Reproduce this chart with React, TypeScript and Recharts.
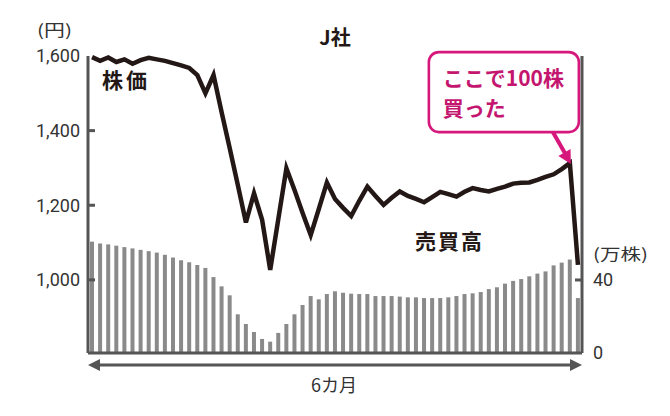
import React from 'react';
import { ComposedChart, Bar, Line, XAxis, YAxis, ReferenceDot } from 'recharts';

// 6 months of weekly-ish points (bar index)
const days = Array.from({ length: 61 }, (_, i) => i + 1);

// 株価 (円)
const price = [
  1597, 1587, 1596, 1584, 1591, 1579, 1589, 1595, 1591, 1587,
  1581, 1575, 1568, 1549, 1500, 1549, 1449, 1353, 1254, 1154,
  1232, 1161, 1027, 1163, 1299, 1241, 1179, 1120, 1190, 1261,
  1217, 1193, 1171, 1212, 1250, 1225, 1201, 1220, 1237, 1225,
  1217, 1208, 1222, 1236, 1230, 1223, 1236, 1246, 1241, 1237,
  1244, 1250, 1258, 1260, 1261, 1268, 1276, 1283, 1297, 1313,
  1040,
];

// 売買高 (万株)
const volume = [
  61, 60, 59.5, 58.8, 58, 57.3, 56.5, 55.8, 55, 53.8,
  52.3, 50.8, 49.7, 48.2, 46.6, 41.6, 36.5, 31.6, 21.2, 15.9,
  11.5, 7.7, 6.2, 11, 15.9, 21.2, 26.3, 31.2, 29.4, 32.3,
  33.8, 33, 32.5, 32.3, 32.3, 31.2, 31.2, 31.2, 30.9, 30.5,
  30.5, 30.1, 30.1, 30.1, 30.5, 31.2, 32.3, 32.7, 33.4, 35,
  36, 38, 39.5, 40.5, 42, 43.5, 44.7, 48, 49.5, 51.2,
  30.1,
];

const priceTicks = [1000, 1200, 1400, 1600];
const volumeTicks = [0, 40];
const buyIndex = 59; // ここで100株買った

const data = days.map((d, i) => ({ day: d, price: price[i], volume: volume[i] }));

const AXIS = '#555';
const PINK = '#d6177c';
const PINK_TEXT = '#c4166f';
const JP = '"Noto Sans CJK JP", "Noto Sans", sans-serif';
const NUM = 'Roboto, "Noto Sans", sans-serif';

const PriceTick = (props: any) => {
  const { x, y, payload } = props;
  const v = payload.value as number;
  return (
    <g>
      {v !== 1600 && <line x1={x + 8} y1={y} x2={x + 15} y2={y} stroke={AXIS} strokeWidth={3} />}
      <text x={x} y={y} dy="0.36em" textAnchor="end" fontFamily={NUM} fontSize={18} fill="#333">
        {v.toLocaleString('en-US')}
      </text>
    </g>
  );
};

const VolumeTick = (props: any) => {
  const { x, y, payload } = props;
  const v = payload.value as number;
  return (
    <g>
      {v !== 0 && <line x1={x - 11} y1={y} x2={x - 18} y2={y} stroke={AXIS} strokeWidth={3} />}
      <text x={x} y={y} dy="0.36em" textAnchor="start" fontFamily={NUM} fontSize={18} fill="#333">
        {v}
      </text>
    </g>
  );
};

const Callout = (props: any) => {
  const { cx, cy } = props;
  const bx = cx - 141;
  const by = cy - 111;
  return (
    <g>
      <rect x={bx} y={by} width={150} height={80} rx={10} fill="#fff" stroke={PINK} strokeWidth={2.6} />
      <text x={bx + 14} y={by + 34} fontFamily={JP} fontWeight={700} fontSize={21} fill={PINK_TEXT}>
        ここで100株
      </text>
      <text x={bx + 14} y={by + 64} fontFamily={JP} fontWeight={700} fontSize={21} fill={PINK_TEXT}>
        買った
      </text>
      <line x1={cx - 17} y1={cy - 31} x2={cx - 5} y2={cy - 10} stroke={PINK} strokeWidth={4} />
      <polygon
        points={`${cx - 11.5},${cy - 7} ${cx + 0.7},${cy - 14} ${cx + 1},${cy + 1}`}
        fill={PINK}
      />
    </g>
  );
};

export default function App() {
  return (
    <div style={{ width: 670, height: 416, background: '#fff' }}>
      <style>{'body{margin:0}'}</style>
      <ComposedChart
        width={670}
        height={416}
        data={data}
        margin={{ top: 56, right: 0, bottom: 62, left: 0 }}
      >
        <XAxis
          dataKey="day"
          height={1}
          tick={false}
          tickLine={false}
          axisLine={{ stroke: AXIS, strokeWidth: 3 }}
        />
        <YAxis
          yAxisId="price"
          width={88}
          domain={[804, 1600]}
          ticks={priceTicks}
          tickSize={0}
          tickMargin={8}
          tick={<PriceTick />}
          axisLine={{ stroke: AXIS, strokeWidth: 3 }}
        />
        <YAxis
          yAxisId="vol"
          orientation="right"
          width={88}
          domain={[0, 162.7]}
          ticks={volumeTicks}
          tickSize={0}
          tickMargin={11}
          tick={<VolumeTick />}
          axisLine={{ stroke: AXIS, strokeWidth: 3 }}
        />
        <Bar yAxisId="vol" dataKey="volume" fill="#8a8a8a" barSize={4} isAnimationActive={false} />
        <Line
          yAxisId="price"
          dataKey="price"
          type="linear"
          stroke="#231815"
          strokeWidth={4.5}
          strokeLinejoin="miter"
          dot={false}
          activeDot={false}
          isAnimationActive={false}
        />
        <ReferenceDot
          yAxisId="price"
          x={days[buyIndex]}
          y={price[buyIndex]}
          shape={<Callout />}
        />

        {/* labels */}
        <text x={37} y={36} fontFamily={JP} fontSize={16} fill="#333" textLength={35} lengthAdjust="spacingAndGlyphs">
          (円)
        </text>
        <text x={335} y={45} textAnchor="middle" fontFamily={JP} fontWeight={700} fontSize={20} fill="#231815">
          J社
        </text>
        <text x={102} y={88} fontFamily={JP} fontWeight={700} fontSize={21} fill="#231815" letterSpacing={3}>
          株価
        </text>
        <text x={415} y={249} fontFamily={JP} fontWeight={700} fontSize={21} fill="#231815" letterSpacing={2}>
          売買高
        </text>
        <text x={593} y={260} fontFamily={JP} fontSize={16} fill="#333" textLength={55} lengthAdjust="spacingAndGlyphs">
          (万株)
        </text>

        {/* 6カ月 span */}
        <line x1={96} y1={365} x2={574} y2={365} stroke={AXIS} strokeWidth={3} />
        <polygon points="88,365 100,359 100,371" fill={AXIS} />
        <polygon points="582,365 570,359 570,371" fill={AXIS} />
        <text x={334} y={392} textAnchor="middle" fontFamily={JP} fontSize={18} fill="#333">
          6カ月
        </text>
      </ComposedChart>
    </div>
  );
}
